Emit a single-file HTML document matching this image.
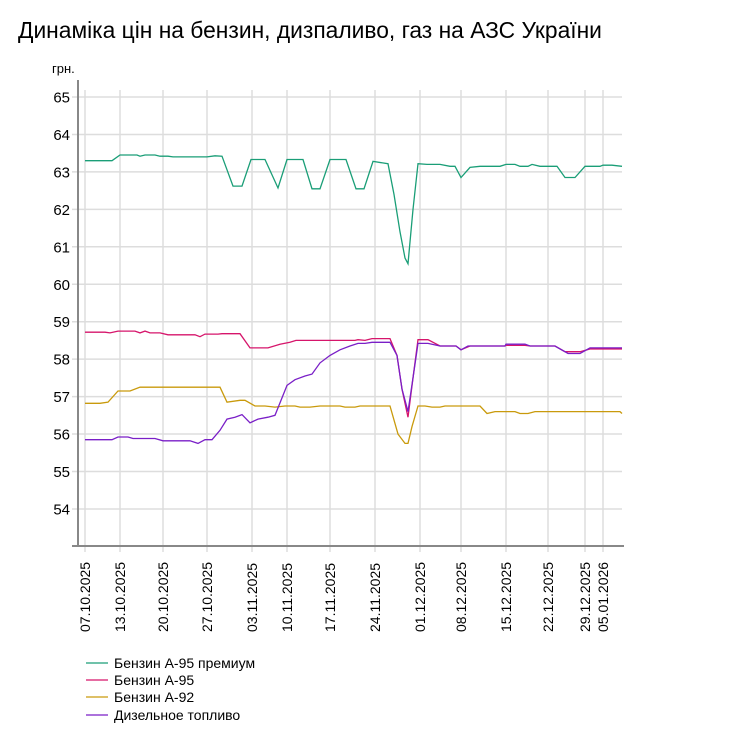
<!DOCTYPE html>
<html><head><meta charset="utf-8"><style>
body{margin:0;background:#fff;font-family:"Liberation Sans",Arial,sans-serif}
</style></head><body>
<svg id="s" width="756" height="743" xmlns="http://www.w3.org/2000/svg" font-family="Liberation Sans, Arial, sans-serif">
<text x="18" y="38" font-size="22.8" fill="#000">Динаміка цін на бензин, дизпаливо, газ на АЗС України</text>
<text x="52" y="73" font-size="13" fill="#000">грн.</text>
<g id="grid"></g>
<line x1="78" y1="80" x2="78" y2="546" stroke="#888" stroke-width="2"/>
<line x1="72" y1="546" x2="624" y2="546" stroke="#888" stroke-width="2"/>
<g id="series" fill="none" stroke-width="1.3"></g>
<g font-size="14" fill="#000">
<line x1="86" y1="663" x2="108" y2="663" stroke="#1a9e77" stroke-width="1.3"/><text x="114" y="668">Бензин А-95 премиум</text>
<line x1="86" y1="680" x2="108" y2="680" stroke="#d6156b" stroke-width="1.3"/><text x="114" y="685">Бензин А-95</text>
<line x1="86" y1="697" x2="108" y2="697" stroke="#c99a0c" stroke-width="1.3"/><text x="114" y="702">Бензин А-92</text>
<line x1="86" y1="715" x2="108" y2="715" stroke="#7a1fc7" stroke-width="1.3"/><text x="114" y="720">Дизельное топливо</text>
</g>
</svg>
<script>
const Y=v=>97+(65-v)*37.45;
const g=document.getElementById('grid');let h='';
for(let v=54;v<=65;v++){const y=Y(v);h+=`<line x1="72" y1="${y}" x2="622" y2="${y}" stroke="#ddd" stroke-width="1.5"/><text x="70" y="${y+5.5}" font-size="15" text-anchor="end" fill="#000">${v}</text>`;}
const xs=[85,120,163,207,252,287,330,375,420,461,506,548,585,603];
const ds=["07.10.2025","13.10.2025","20.10.2025","27.10.2025","03.11.2025","10.11.2025","17.11.2025","24.11.2025","01.12.2025","08.12.2025","15.12.2025","22.12.2025","29.12.2025","05.01.2026"];
xs.forEach((x,i)=>{h+=`<line x1="${x}" y1="90" x2="${x}" y2="552" stroke="#ddd" stroke-width="1.5"/><text transform="translate(${x+5},632) rotate(-90)" font-size="14" fill="#000">${ds[i]}</text>`;});
g.innerHTML=h;
const S={
"#1a9e77":[[85,63.3],[112,63.3],[120,63.45],[137,63.45],[140,63.42],[145,63.45],[155,63.45],[160,63.42],[168,63.42],[173,63.4],[207,63.4],[215,63.43],[222,63.42],[233,62.62],[242,62.62],[251,63.33],[265,63.33],[278,62.57],[287,63.33],[303,63.33],[312,62.55],[320,62.55],[330,63.33],[346,63.33],[356,62.55],[364,62.55],[373,63.28],[388,63.22],[394,62.4],[400,61.4],[405,60.7],[408,60.55],[413,62],[418,63.22],[427,63.2],[440,63.2],[450,63.15],[455,63.15],[461,62.85],[470,63.12],[480,63.15],[500,63.15],[506,63.2],[515,63.2],[520,63.15],[528,63.15],[532,63.2],[540,63.15],[557,63.15],[565,62.85],[575,62.85],[585,63.15],[600,63.15],[603,63.18],[612,63.18],[622,63.15]],
"#d6156b":[[85,58.72],[105,58.72],[110,58.7],[118,58.75],[135,58.75],[140,58.7],[145,58.75],[150,58.7],[160,58.7],[168,58.65],[195,58.65],[200,58.6],[205,58.67],[218,58.67],[222,58.68],[240,58.68],[250,58.3],[268,58.3],[280,58.4],[290,58.45],[296,58.5],[355,58.5],[358,58.52],[365,58.5],[372,58.55],[390,58.55],[397,58.1],[402,57.2],[408,56.45],[413,57.5],[418,58.52],[428,58.52],[440,58.35],[456,58.35],[461,58.25],[470,58.35],[505,58.35],[506,58.37],[525,58.37],[530,58.35],[555,58.35],[565,58.2],[580,58.2],[590,58.27],[622,58.27]],
"#c99a0c":[[85,56.82],[100,56.82],[108,56.85],[118,57.15],[130,57.15],[140,57.25],[150,57.25],[190,57.25],[220,57.25],[227,56.85],[240,56.9],[245,56.9],[255,56.75],[265,56.75],[275,56.72],[285,56.75],[295,56.75],[300,56.72],[310,56.72],[320,56.75],[340,56.75],[345,56.72],[355,56.72],[360,56.75],[390,56.75],[398,56],[405,55.75],[408,55.75],[412,56.2],[418,56.75],[425,56.75],[432,56.72],[440,56.72],[445,56.75],[480,56.75],[487,56.55],[495,56.6],[515,56.6],[520,56.55],[528,56.55],[535,56.6],[620,56.6],[622,56.55]],
"#7a1fc7":[[85,55.85],[112,55.85],[118,55.92],[128,55.92],[133,55.88],[155,55.88],[163,55.82],[190,55.82],[198,55.75],[205,55.85],[212,55.85],[220,56.1],[227,56.4],[235,56.45],[242,56.52],[250,56.3],[258,56.4],[268,56.45],[275,56.5],[287,57.3],[295,57.45],[305,57.55],[312,57.6],[320,57.9],[330,58.1],[340,58.25],[350,58.35],[358,58.42],[365,58.42],[372,58.45],[390,58.45],[397,58.1],[402,57.2],[408,56.6],[413,57.5],[418,58.42],[428,58.42],[440,58.35],[456,58.35],[461,58.25],[468,58.35],[505,58.35],[506,58.4],[525,58.4],[530,58.35],[555,58.35],[568,58.15],[580,58.15],[590,58.3],[622,58.3]]};
let p='';for(const c in S){p+=`<polyline stroke="${c}" points="${S[c].map(a=>a[0]+','+Y(a[1]).toFixed(1)).join(' ')}"/>`;}
document.getElementById('series').innerHTML=p;
</script>
</body></html>
